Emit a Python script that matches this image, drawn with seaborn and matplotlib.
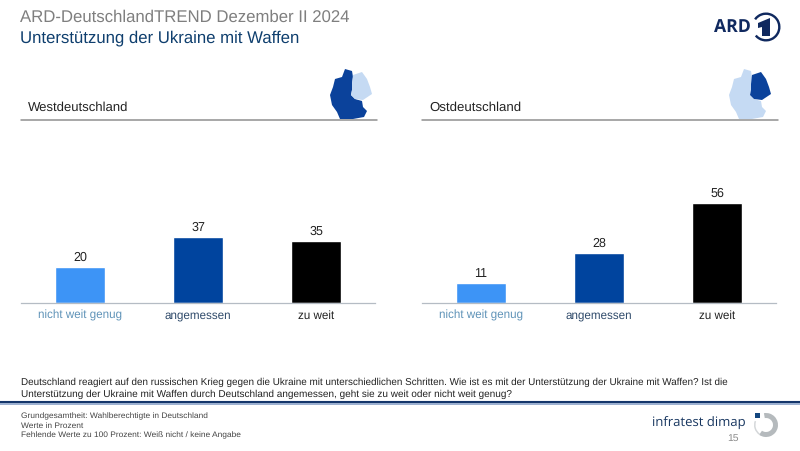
import matplotlib
matplotlib.use("Agg")
import matplotlib.pyplot as plt
from matplotlib.patches import Polygon, Wedge, Rectangle
import seaborn as sns
import pandas as pd

categories = ["nicht weit genug", "angemessen", "zu weit"]
west_values = [20, 37, 35]
east_values = [11, 28, 56]
bar_colors = ["#3d94f6", "#00449e", "#000000"]
label_colors = ["#5f93b8", "#2f4a6a", "#222222"]

sns.set_theme(style="white")
plt.rcParams["font.family"] = ["Liberation Sans", "DejaVu Sans"]
plt.rcParams["text.hinting"] = "no_hinting"
plt.rcParams["text.hinting_factor"] = 8

W, H = 800, 451
fig = plt.figure(figsize=(W / 100, H / 100), dpi=100, facecolor="white")
renderer = fig.canvas.get_renderer()


def fit(t, target_px):
    for _ in range(3):
        w = t.get_window_extent(renderer).width
        t.set_fontsize(t.get_fontsize() * target_px / w)
    return t


# page overlay in pixel coordinates
bg = fig.add_axes([0, 0, 1, 1], zorder=0)
bg.set_xlim(0, W)
bg.set_ylim(H, 0)
bg.axis("off")


def panel(x0, values):
    ax = fig.add_axes([x0 / W, 1 - 303 / H, 354 / W, 106.8 / H], zorder=1)
    ax.patch.set_alpha(0)
    df = pd.DataFrame({"cat": categories, "val": values})
    sns.barplot(data=df, x="cat", y="val", hue="cat", palette=bar_colors,
                order=categories, hue_order=categories, dodge=False,
                legend=False, width=0.43, saturation=1, ax=ax)
    ax.set_xlim(-0.5, 2.5)
    ax.set_ylim(0, 60)
    ax.set_xlabel("")
    ax.set_ylabel("")
    ax.set_yticks([])
    ax.tick_params(axis="x", length=0, pad=11.5)
    ax.set_xticks(range(3))
    ax.set_xticklabels(categories, fontsize=8.5, va="baseline")
    labs = ax.get_xticklabels()
    fit(labs[0], 84)
    for lab, c in zip(labs, label_colors):
        lab.set_color(c)
        lab.set_fontsize(labs[0].get_fontsize())
    sns.despine(ax=ax, left=True)
    ax.spines["bottom"].set_color("#b5bcc4")
    ax.spines["bottom"].set_linewidth(0.9)
    for cont in ax.containers:
        ax.bar_label(cont, fontsize=9, color="#222222", padding=2.5)
    return ax


panel(21, west_values)
panel(422, east_values)

# titles
fit(bg.text(20, 17.5, "ARD-DeutschlandTREND Dezember II 2024", fontsize=12,
            color="#7f7f7f", va="center", ha="left"), 329)
fit(bg.text(20, 38.5, "Unterstützung der Ukraine mit Waffen", fontsize=12,
            color="#0f3f6e", va="center", ha="left"), 280)

# panel headers
fit(bg.text(27.5, 108, "Westdeutschland", fontsize=9.6, color="#222222", va="center"), 101)
fit(bg.text(429, 108, "Ostdeutschland", fontsize=9.6, color="#222222", va="center"), 92)
bg.plot([21, 377], [120, 120], color="#8f8f8f", lw=1.1)
bg.plot([422, 778], [120, 120], color="#8f8f8f", lw=1.1)

# map glyphs
west_shape = [(345, 69), (352, 71), (353, 77), (352, 84), (352, 90), (351, 95),
              (355, 99), (362, 101), (363, 107), (367, 111), (364, 117),
              (353, 119), (340, 119), (337, 112), (332, 105), (330, 95),
              (333, 87), (335, 79), (342, 77)]
east_shape = [(353, 75), (362, 72), (367, 79), (370, 87), (372, 94), (363, 100),
              (355, 99), (351, 95), (352, 90), (352, 84)]
dark, light = "#0b429b", "#c5daf3"
for dx, wc, ec in [(0, dark, light), (399, light, dark)]:
    bg.add_patch(Polygon([(x + dx, y) for x, y in west_shape], closed=True,
                         fc=wc, ec="none"))
    bg.add_patch(Polygon([(x + dx, y) for x, y in east_shape], closed=True,
                         fc=ec, ec="none"))

# ARD logo
navy = "#10295f"
fit(bg.text(713.5, 27, "ARD", fontsize=13, fontweight="bold", color=navy,
            va="center", ha="left", family=["Open Sans", "DejaVu Sans"]), 37)
bg.add_patch(Wedge((766, 27), 14.5, -145, 140, width=2.4, fc=navy, ec="none"))
bg.add_patch(Polygon([(758, 23), (770, 18), (770, 36), (762, 36), (762, 27), (758, 28)],
                     closed=True, fc=navy, ec="none"))

# question
fit(bg.text(21, 382, "Deutschland reagiert auf den russischen Krieg gegen die Ukraine mit "
            "unterschiedlichen Schritten. Wie ist es mit der Unterstützung der Ukraine "
            "mit Waffen? Ist die", fontsize=7, color="#222222", va="center"), 714)
fit(bg.text(21, 394, "Unterstützung der Ukraine mit Waffen durch Deutschland angemessen, "
            "geht sie zu weit oder nicht weit genug?", fontsize=7, color="#222222",
            va="center"), 489)

# divider
bg.plot([0, 800], [402.3, 402.3], color="#14366b", lw=1.5, solid_capstyle="butt")
bg.plot([0, 800], [404.2, 404.2], color="#8aa2c8", lw=1.2, solid_capstyle="butt")

# footnotes
foot = [bg.text(21, y, s, fontsize=6, color="#444444", va="center")
        for y, s in [(416.5, "Grundgesamtheit: Wahlberechtigte in Deutschland"),
                     (425.5, "Werte in Prozent"),
                     (435, "Fehlende Werte zu 100 Prozent: Weiß nicht / keine Angabe")]]
fit(foot[2], 218)
for t in foot[:2]:
    t.set_fontsize(foot[2].get_fontsize())

# infratest dimap logo
fit(bg.text(652, 423, "infratest dimap", fontsize=9.3, color="#16355f", va="center",
            ha="left", family=["Open Sans", "DejaVu Sans"]), 94)
bg.add_patch(Wedge((766, 425), 12, -100, 125, width=5, fc="#b5babd", ec="none"))
bg.add_patch(Wedge((766, 425), 12, 125, 200, width=1.5, fc="#d4d7d9", ec="none"))
bg.add_patch(Rectangle((755, 413), 5, 5, fc="#14477f", ec="none"))
bg.text(733, 438.5, "15", fontsize=7.5, color="#8c8c8c", va="center", ha="center")

fig.savefig("out.png", dpi=100, facecolor="white")
